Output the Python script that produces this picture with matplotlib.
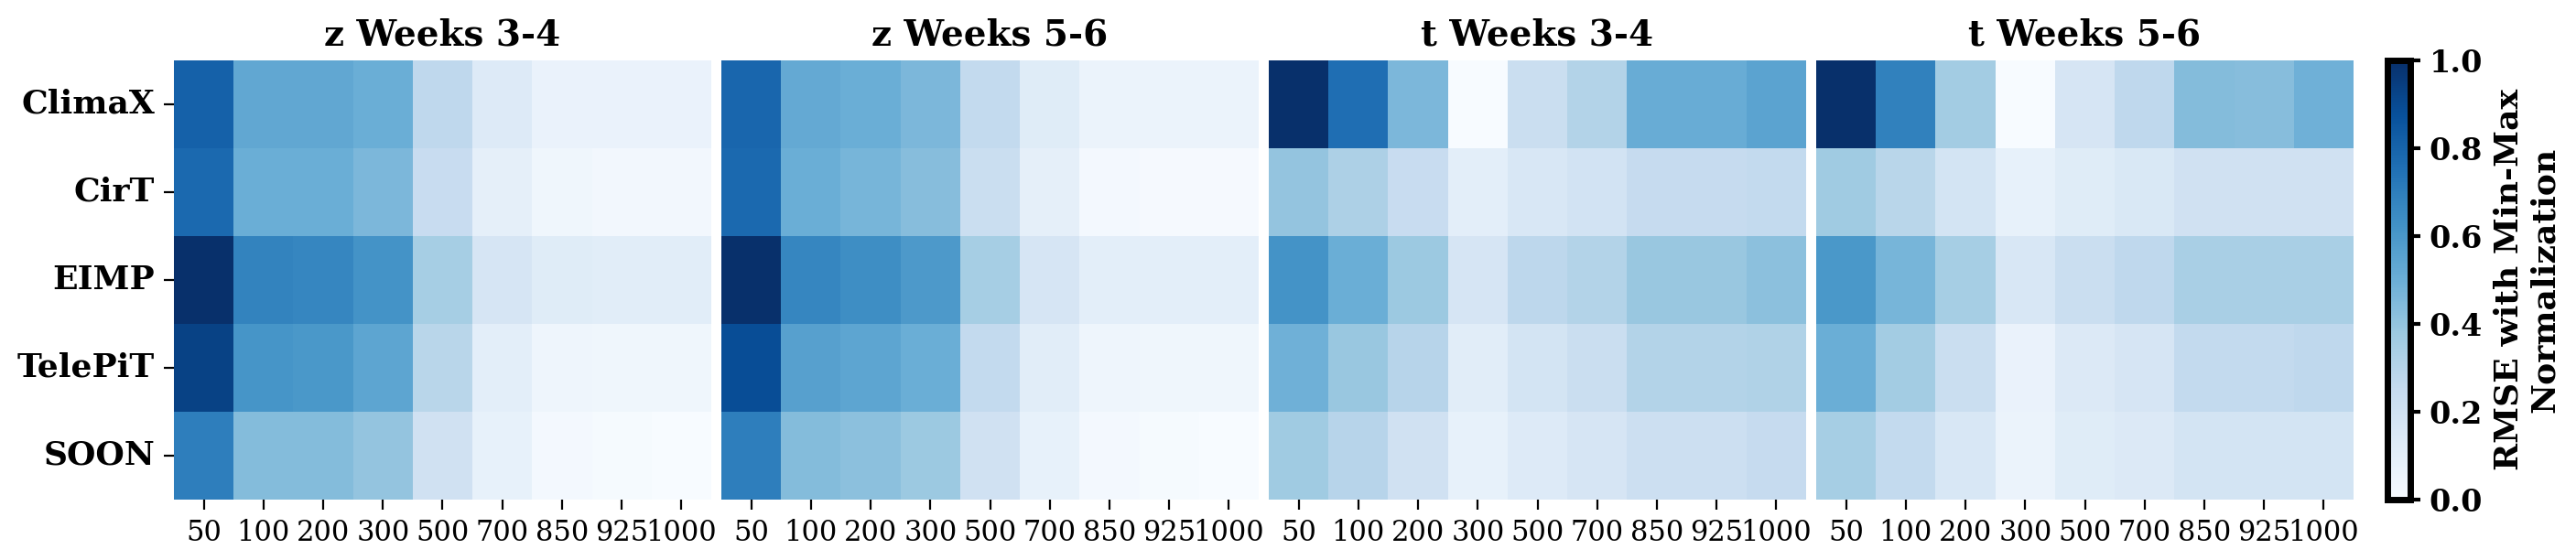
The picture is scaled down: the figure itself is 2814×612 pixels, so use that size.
import numpy as np
import matplotlib
matplotlib.use("Agg")
import matplotlib.pyplot as plt
import seaborn as sns

plt.rcParams['font.family'] = ['DejaVu Serif']

models = ['ClimaX', 'CirT', 'EIMP', 'TelePiT', 'SOON']
levels = ['50', '100', '200', '300', '500', '700', '850', '925', '1000']
titles = ['z Weeks 3-4', 'z Weeks 5-6', 't Weeks 3-4', 't Weeks 5-6']

# min-max normalized RMSE, rows = models, cols = pressure levels
z_w34 = [[0.81, 0.53, 0.53, 0.50, 0.27, 0.13, 0.07, 0.07, 0.07],
         [0.78, 0.50, 0.50, 0.46, 0.24, 0.09, 0.04, 0.03, 0.03],
         [1.00, 0.68, 0.67, 0.62, 0.35, 0.17, 0.12, 0.11, 0.11],
         [0.93, 0.61, 0.60, 0.54, 0.29, 0.10, 0.05, 0.04, 0.04],
         [0.70, 0.44, 0.44, 0.40, 0.20, 0.08, 0.02, 0.01, 0.00]]
z_w56 = [[0.79, 0.52, 0.50, 0.46, 0.26, 0.12, 0.06, 0.06, 0.06],
         [0.78, 0.50, 0.47, 0.43, 0.23, 0.09, 0.02, 0.015, 0.015],
         [1.00, 0.67, 0.64, 0.59, 0.35, 0.17, 0.10, 0.10, 0.10],
         [0.89, 0.56, 0.54, 0.50, 0.26, 0.11, 0.05, 0.04, 0.04],
         [0.70, 0.44, 0.42, 0.38, 0.20, 0.08, 0.02, 0.01, 0.00]]
t_w34 = [[1.00, 0.76, 0.46, 0.00, 0.23, 0.31, 0.51, 0.51, 0.55],
         [0.40, 0.33, 0.24, 0.10, 0.16, 0.19, 0.25, 0.25, 0.26],
         [0.62, 0.50, 0.38, 0.17, 0.28, 0.31, 0.39, 0.39, 0.42],
         [0.49, 0.39, 0.30, 0.11, 0.18, 0.23, 0.31, 0.31, 0.32],
         [0.37, 0.30, 0.20, 0.08, 0.13, 0.17, 0.22, 0.22, 0.25]]
t_w56 = [[1.00, 0.69, 0.36, 0.00, 0.17, 0.27, 0.44, 0.43, 0.49],
         [0.37, 0.29, 0.18, 0.08, 0.12, 0.15, 0.20, 0.20, 0.20],
         [0.60, 0.47, 0.35, 0.16, 0.23, 0.27, 0.34, 0.34, 0.34],
         [0.50, 0.36, 0.23, 0.07, 0.14, 0.17, 0.26, 0.26, 0.27],
         [0.35, 0.26, 0.16, 0.06, 0.12, 0.14, 0.18, 0.18, 0.18]]

panels = [z_w34, z_w56, t_w34, t_w56]

fig = plt.figure(figsize=(14.07, 3.06), dpi=200)
W, H = 2814, 612
lefts = [190, 788, 1386, 1984]
pw = 587
top, bottom = 66, 546

for i, (data, title) in enumerate(zip(panels, titles)):
    ax = fig.add_axes([lefts[i] / W, 1 - bottom / H, pw / W, (bottom - top) / H])
    sns.heatmap(np.array(data), ax=ax, cmap='Blues', vmin=0, vmax=1, cbar=False,
                xticklabels=levels, yticklabels=models if i == 0 else False)
    ax.set_title(title, fontsize=14, fontweight='bold', pad=6)
    ax.tick_params(axis='x', labelsize=11, rotation=0, length=4)
    if i == 0:
        ax.tick_params(axis='y', labelsize=13, rotation=0, length=4)
        for lab in ax.get_yticklabels():
            lab.set_fontweight('bold')

cax = fig.add_axes([2608 / W, 1 - bottom / H, 25 / W, (bottom - top) / H])
sm = plt.cm.ScalarMappable(cmap='Blues', norm=plt.Normalize(0, 1))
cb = fig.colorbar(sm, cax=cax)
cb.outline.set_linewidth(2.5)
cb.set_ticks([0.0, 0.2, 0.4, 0.6, 0.8, 1.0])
cax.tick_params(labelsize=12, width=1.5, length=4)
for lab in cax.get_yticklabels():
    lab.set_fontweight('bold')
cb.set_label('RMSE with Min-Max\nNormalization', fontsize=13, fontweight='bold', labelpad=4)

fig.savefig('out.png', dpi=200)
